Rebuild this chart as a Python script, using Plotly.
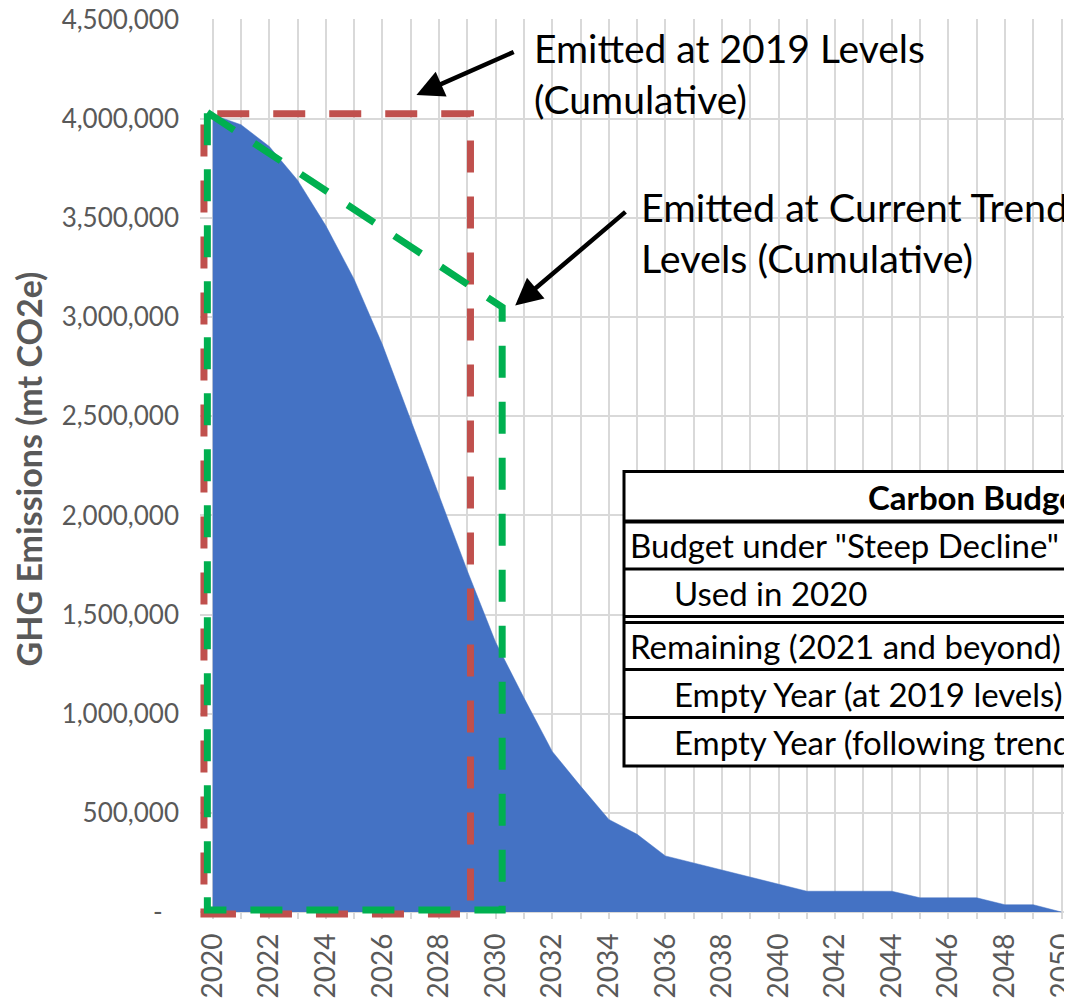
import plotly.graph_objects as go

# ---------------- data ----------------
years = list(range(2020, 2051))
emissions = [4020000, 3970000, 3860000, 3690000, 3460000, 3190000, 2860000,
             2480000, 2100000, 1720000, 1360000, 1080000, 810000, 635000,
             467000, 392000, 283000, 248000, 212000, 177000, 140000, 105000,
             105000, 105000, 105000, 72000, 72000, 72000, 37000, 37000, 0]
x_tick_labels = [str(y) if y % 2 == 0 else "" for y in years]
y_tick_values = [0, 500000, 1000000, 1500000, 2000000, 2500000, 3000000,
                 3500000, 4000000, 4500000]
y_tick_labels = ["-\u2002\u2009", "500,000", "1,000,000", "1,500,000", "2,000,000",
                 "2,500,000", "3,000,000", "3,500,000", "4,000,000", "4,500,000"]
y_title = "GHG Emissions (mt CO2e)"
note_2019 = "Emitted at 2019 Levels<br>(Cumulative)"
note_trend = "Emitted at Current Trend<br>Levels (Cumulative)"
table_title = "Carbon Budget"
table_rows = ['Budget under "Steep Decline"', "Used in 2020",
              "Remaining (2021 and beyond)", "Empty Year (at 2019 levels)",
              "Empty Year (following trend)"]
table_indent = [False, True, False, True, True]

# ---------------- layout helpers ----------------
OFF = 8                      # page body margin of the html page
W, H = 1072 - OFF, 1002 - OFF
ML, MR, MT, MB = 192, 2, 11, 83
PW, PH = W - ML - MR, H - MT - MB
FONT = "Lato"
GRAY = "#595959"


def px(xp):
    """page pixel x -> paper fraction"""
    return (xp - OFF - ML) / PW


def py(yp):
    """page pixel y -> paper fraction"""
    return (OFF + H - MB - yp) / PH


fig = go.Figure()
fig.add_trace(go.Scatter(
    x=years, y=emissions, mode="lines", fill="tozeroy",
    fillcolor="#4472C4", line=dict(color="#4472C4", width=0.5),
    hoverinfo="x+y", showlegend=False))

shapes = []
# red dashed box: 2019 levels
shapes.append(dict(type="rect", xref="x", yref="y", x0=2019.69, x1=2029.11,
                   y0=-10000, y1=4025000,
                   line=dict(color="#C0504D", width=7, dash="32px,24px")))
# green dashed polygon: current trend
shapes.append(dict(type="path", xref="x", yref="y",
                   path="M 2019.81,4032000 L 2030.23,3050000 L 2030.23,10000 "
                        "L 2019.81,10000 Z",
                   line=dict(color="#00B050", width=7, dash="32px,24px")))

# table
tl, tr, tt, tb = 624, 1110, 471.5, 766
shapes.append(dict(type="rect", xref="paper", yref="paper", x0=px(tl), x1=px(tr),
                   y0=py(tb), y1=py(tt), fillcolor="white",
                   line=dict(color="black", width=3)))
for yl, w in [(521.5, 4), (569, 3), (616.5, 3), (622.5, 3), (669.5, 3), (717.5, 3)]:
    shapes.append(dict(type="line", xref="paper", yref="paper", x0=px(tl), x1=px(tr),
                       y0=py(yl), y1=py(yl), line=dict(color="black", width=w)))

annotations = []
annotations.append(dict(x=2031.3, y=4230000, xref="x", yref="y", text=note_2019,
                        xanchor="left", yanchor="middle", align="left",
                        showarrow=False, font=dict(family=FONT, size=39, color="black")))
annotations.append(dict(x=2035.05, y=3430000, xref="x", yref="y", text=note_trend,
                        xanchor="left", yanchor="middle", align="left",
                        showarrow=False, font=dict(family=FONT, size=39.5, color="black")))
# arrows
annotations.append(dict(x=2027.2, y=4120000, ax=2030.69, ay=4340000,
                        xref="x", yref="y", axref="x", ayref="y", text="",
                        showarrow=True, arrowhead=2, arrowsize=1.2, arrowwidth=4.5,
                        arrowcolor="black"))
annotations.append(dict(x=2030.69, y=3058000, ax=2034.64, ay=3537000,
                        xref="x", yref="y", axref="x", ayref="y", text="",
                        showarrow=True, arrowhead=2, arrowsize=1.2, arrowwidth=4.5,
                        arrowcolor="black"))
# table text
annotations.append(dict(x=px(866), y=py(496.5), xref="paper", yref="paper",
                        text=table_title, xanchor="left", yanchor="middle",
                        showarrow=False,
                        font=dict(family=FONT, size=33, color="black", weight="bold")))
row_centers = [545, 593, 646, 693.5, 741.5]
for label, indent, yc in zip(table_rows, table_indent, row_centers):
    annotations.append(dict(x=px(672 if indent else 628), y=py(yc),
                            xref="paper", yref="paper", text=label,
                            xanchor="left", yanchor="middle", showarrow=False,
                            font=dict(family=FONT, size=33, color="black")))

fig.update_layout(
    width=W, height=H,
    margin=dict(l=ML, r=MR, t=MT, b=MB, autoexpand=False),
    paper_bgcolor="white", plot_bgcolor="white",
    showlegend=False,
    shapes=shapes, annotations=annotations,
    xaxis=dict(range=[2019.55, 2050.3], tickmode="array", tickvals=years,
               ticktext=x_tick_labels, tickangle=-90,
               tickfont=dict(family=FONT, size=28, color=GRAY),
               showgrid=True, gridcolor="#d9d9d9", gridwidth=2,
               zeroline=False, showline=False, ticks="",
               ticklabelstandoff=8, ticklabeloverflow="allow"),
    yaxis=dict(range=[-35000, 4503000], tickmode="array", tickvals=y_tick_values,
               ticktext=y_tick_labels,
               tickfont=dict(family=FONT, size=26, color=GRAY),
               showgrid=True, gridcolor="#d9d9d9", gridwidth=2,
               zeroline=False, showline=False, ticks="",
               ticklabelstandoff=20, ticklabeloverflow="allow",
               title=dict(text=y_title, standoff=12,
                          font=dict(family=FONT, size=34, color=GRAY, weight="bold"))),
)

fig.write_html("out.html")
